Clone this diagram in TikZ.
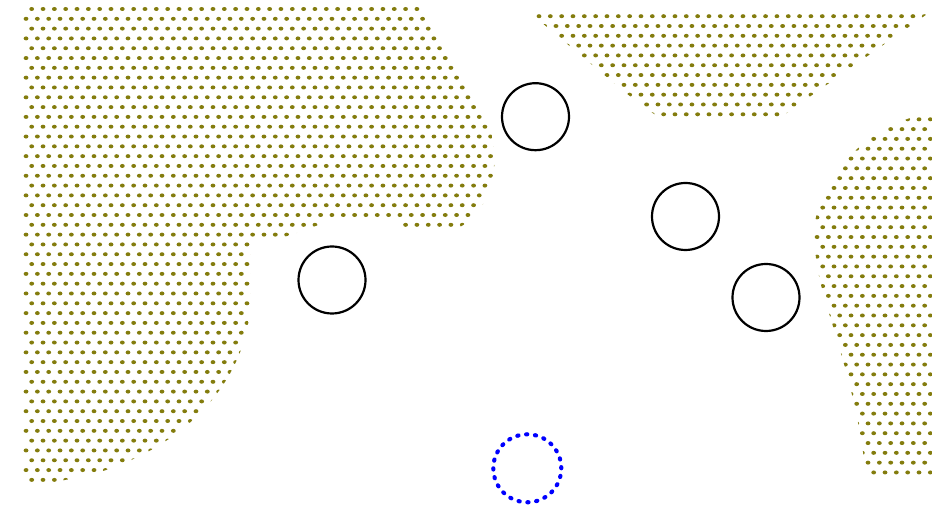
\documentclass[tikz,border=0pt]{standalone}
\begin{document}
\begin{tikzpicture}[x=0.75pt,y=-0.75pt,
  obstacle/.style={circle,draw=black,line width=1.65pt,inner sep=0pt,minimum size=50.25pt},
  goal/.style={circle,draw=blue,line width=3.1pt,line cap=round,dash pattern=on 0.9pt off 5.776pt,inner sep=0pt,minimum size=51pt},
  hexdot/.style={fill=olive!90!black}]
\useasboundingbox (0,0) rectangle (932,505);
% hexagonal dot field: #1,#2 = x0,y0 ; #3 rows ; #4 columns
\newcommand{\hexfield}[4]{%
  \foreach \yy in {0,...,#3}{%
    \pgfmathsetmacro\ry{#2+9.81*\yy}%
    \pgfmathsetmacro\rx{#1+mod(\yy,2)*5.665}%
    \foreach \xx in {0,...,#4}{%
      \fill[hexdot] (\rx+11.33*\xx,\ry) ellipse [x radius=1.8pt,y radius=1.5pt];
    }%
  }%
}
% left region
\begin{scope}
\clip (23,4) -- (419,4) -- (488,124)
  .. controls (494,138) and (497,160) .. (492,180)
  .. controls (486,205) and (474,222) .. (455,229)
  -- (400,229) -- (398,219) -- (340,219)
  .. controls (310,225) and (290,240) .. (250,243)
  -- (250,310)
  .. controls (245,370) and (200,440) .. (100,472)
  .. controls (70,480) and (45,484) .. (23,485) -- cycle;
\hexfield{20.37}{9}{48}{43}
\end{scope}
% top region
\begin{scope}
\clip (529,12) -- (930,12) -- (798,105)
  .. controls (785,116) and (775,120) .. (755,120)
  -- (668,120)
  .. controls (652,116) and (635,100) .. (615,84) -- cycle;
\hexfield{527.67}{16.2}{10}{36}
\end{scope}
% right region
\begin{scope}
\clip (932,112) .. controls (880,122) and (835,160) .. (820,200)
  .. controls (810,230) and (815,265) .. (825,300)
  .. controls (840,350) and (860,410) .. (866,478)
  -- (932,478) -- cycle;
\hexfield{805.7}{119.3}{36}{12}
\end{scope}
% obstacles
\node[obstacle] (c1) at (535.5,116.7) {};
\node[obstacle] (c2) at (685.5,216.5) {};
\node[obstacle] (c3) at (766,297.5) {};
\node[obstacle] (c4) at (332,280) {};
\node[goal] (goal) at (527.3,468.3) {};
\end{tikzpicture}
\end{document}
